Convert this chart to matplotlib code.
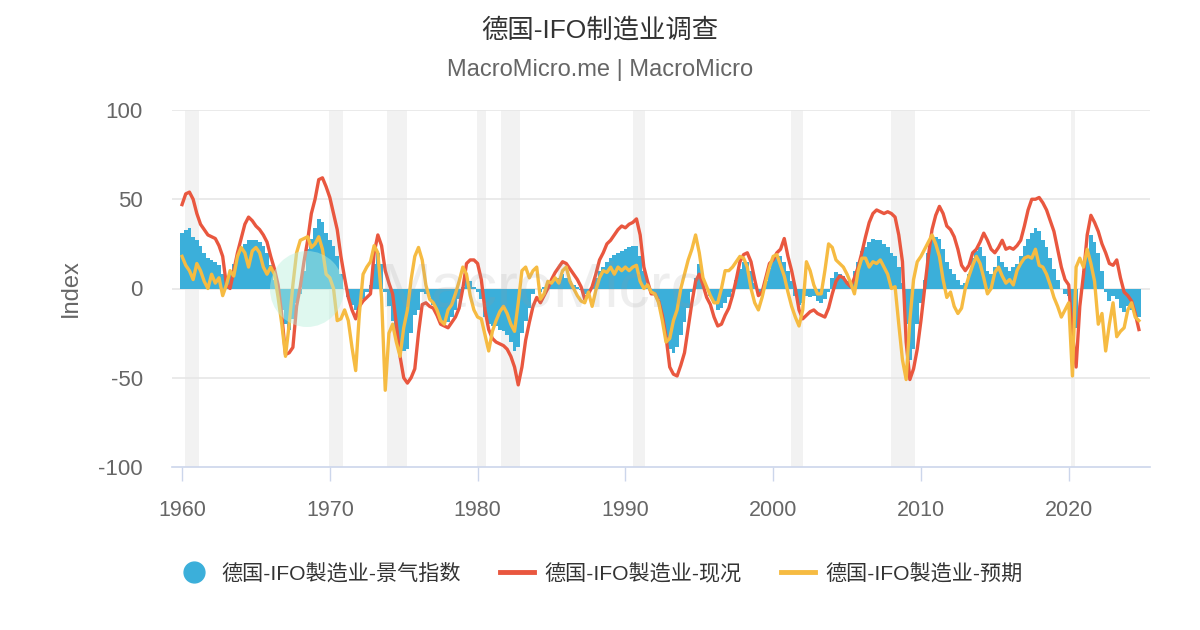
import numpy as np
import matplotlib
matplotlib.use('Agg')
import matplotlib.pyplot as plt
from matplotlib.lines import Line2D
from matplotlib.patches import Ellipse

plt.rcParams['font.family'] = ['Liberation Sans', 'Noto Sans CJK SC']

# 季度数据, 1960Q1 - 2024Q4
start_year = 1960.0
step = 0.25

# 景气指数 (bars)
climate = [
    31, 33, 34, 29, 27, 24, 20, 17, 16, 15, 13, 8, 4, 8, 14, 19,
    22, 25, 27, 27, 27, 26, 24, 20, 13, 5, -3, -12, -20, -23, -17, -8,
    -3, 10, 22, 28, 34, 39, 37, 31, 27, 24, 18, 8, 0, -5, -9, -12,
    -9, -6, -2, 2, 14, 20, 14, -2, -10, -18, -25, -31, -35, -34, -25, -15,
    -12, -2, -3, -5, -9, -14, -18, -20, -19, -16, -12, -6, 1, 7, 4, 1,
    -2, -6, -16, -20, -21, -21, -23, -24, -26, -30, -35, -33, -25, -18, -11, -3,
    0, -2, 1, 3, 4, 5, 6, 8, 6, 4, 2, 1, -1, -3, -2, 1,
    6, 10, 12, 15, 17, 19, 20, 21, 22, 23, 24, 24, 18, 10, 2, -2,
    -3, -6, -15, -27, -34, -36, -33, -26, -19, -11, -2, 6, 14, 6, 0, -4,
    -8, -12, -11, -8, -5, -2, 5, 11, 15, 15, 10, 3, -4, -2, 4, 11,
    17, 18, 18, 15, 10, 4, -4, -9, -8, -4, -5, -4, -7, -8, -6, -2,
    6, 9, 8, 7, 4, 3, 10, 15, 21, 23, 26, 28, 27, 27, 25, 23,
    20, 18, 12, 3, -20, -40, -34, -20, -8, 5, 20, 28, 29, 28, 22, 15,
    11, 8, 5, 2, 3, 8, 17, 21, 23, 18, 10, 8, 12, 18, 15, 12,
    10, 12, 14, 18, 24, 28, 31, 34, 32, 27, 23, 17, 11, 5, 0, -3,
    -4, -30, -22, 0, 10, 22, 30, 26, 20, 10, -2, -7, -4, -6, -11, -13,
    -10, -12, -14, -16,
]

# 现况 (red line)
current = [
    47, 53, 54, 50, 42, 36, 33, 30, 29, 28, 24, 18, 2, 0, 10, 20,
    28, 36, 40, 38, 35, 33, 30, 26, 18, 11, 2, -15, -37, -36, -33, -10,
    1, 15, 27, 42, 50, 61, 62, 57, 51, 42, 33, 18, 6, -5, -12, -17,
    -10, -7, -5, -3, 20, 30, 24, 10, 3, -3, -20, -38, -50, -53, -50, -45,
    -25, -9, -8, -10, -11, -15, -20, -21, -22, -19, -16, -11, 0, 14, 16, 16,
    14, 5, -12, -23, -28, -30, -31, -32, -34, -38, -44, -54, -44, -29, -19, -10,
    -5, -8, -4, 0, 5, 9, 12, 15, 14, 11, 8, 5, 1, -6, -3, 1,
    8, 16, 20, 25, 27, 30, 33, 35, 34, 36, 37, 39, 30, 12, 4, -3,
    -3, -7, -15, -27, -44, -48, -49, -43, -36, -22, -8, 4, 8, 2, -5, -9,
    -16, -21, -20, -15, -11, -4, 5, 15, 19, 20, 15, 5, -4, -2, 6, 14,
    16, 20, 22, 28, 18, 10, 0, -12, -17, -15, -13, -12, -14, -15, -16, -11,
    -3, 4, 7, 6, 3, 1, 6, 12, 20, 29, 37, 42, 44, 43, 42, 43,
    42, 40, 30, 15, -30, -51, -45, -34, -18, 0, 18, 33, 41, 46, 42, 35,
    33, 29, 22, 13, 10, 13, 20, 22, 26, 31, 27, 22, 20, 23, 27, 22,
    23, 22, 24, 27, 35, 44, 50, 50, 51, 48, 44, 38, 32, 22, 12, 5,
    2, -25, -44, -10, 8, 30, 41, 37, 32, 25, 20, 14, 13, 16, 6, -2,
    -4, -7, -14, -23,
]

# 预期 (yellow line)
expect = [
    18, 13, 10, 5, 14, 10, 4, 0, 8, 3, 6, -4, 2, 10, 7, 18,
    23, 20, 12, 21, 23, 20, 12, 8, 12, 8, -5, -20, -38, -20, 2, 20,
    27, 28, 29, 23, 25, 29, 22, 8, 6, 0, -18, -17, -12, -18, -33, -46,
    -14, 8, 12, 15, 24, 20, -5, -57, -25, -20, -30, -38, -22, -12, 5, 18,
    23, 16, 2, -6, -8, -12, -18, -20, -12, -9, -3, 4, 12, 8, -4, -12,
    -16, -17, -26, -35, -24, -18, -13, -10, -14, -20, -24, -8, 10, 12, 6, 10,
    12, -6, -3, 4, 3, 6, 3, 10, 12, 4, 0, -4, -7, -8, -2, -10,
    -1, 6, 10, 9, 12, 8, 12, 10, 12, 10, 12, 13, 4, 0, 2, -2,
    -3, -8, -18, -30, -28, -18, -12, 0, 8, 16, 22, 30, 20, 6, 1, -4,
    -8, -8, 0, 10, 10, 12, 15, 18, 17, 12, 0, -8, -12, -5, 4, 12,
    18, 19, 13, 7, -2, -10, -16, -21, -12, 15, 10, 2, -3, -3, 10, 25,
    23, 16, 14, 12, 8, 3, -3, 10, 17, 17, 12, 15, 14, 16, 12, 8,
    0, 1, -20, -40, -51, -18, 5, 15, 18, 22, 26, 30, 25, 18, 5, -5,
    -2, -10, -14, -11, 0, 7, 13, 18, 14, 6, -3, 0, 9, 12, 7, 3,
    5, 2, 10, 14, 17, 18, 17, 22, 13, 12, 8, 2, -5, -10, -16, -12,
    -8, -49, 12, 17, 12, 22, 14, 4, -20, -14, -35, -20, -8, -27, -24, -22,
    -12, -8, -16, -18,
]

recessions = [(1960.2, 1961.15), (1969.97, 1970.87), (1973.87, 1975.2),
              (1979.94, 1980.6), (1981.6, 1982.9), (1990.5, 1991.3),
              (2001.2, 2002.0), (2008.0, 2009.6), (2020.15, 2020.45)]

x_ticks = [1960, 1970, 1980, 1990, 2000, 2010, 2020]
y_ticks = [-100, -50, 0, 50, 100]

labels = ['德国-IFO製造业-景气指数', '德国-IFO製造业-现况', '德国-IFO製造业-预期']
c_blue = '#3BAFDA'
c_red = '#E9573F'
c_yellow = '#F6BB42'

t = start_year + step * np.arange(len(climate))

fig = plt.figure(figsize=(12, 6.3), dpi=100)
ax = fig.add_axes([172 / 1200, 1 - 467 / 630, 978 / 1200, 357 / 630])

for a, b in recessions:
    ax.axvspan(a, b, color='#f2f2f2', lw=0, zorder=0)

for y in y_ticks[1:]:
    ax.axhline(y, color='#e6e6e6', lw=1.2, zorder=1)

ax.bar(t, climate, width=step * 1.02, color=c_blue, lw=0, zorder=2)
ax.plot(t, current, color=c_red, lw=2.4, zorder=3, solid_joinstyle='round')
ax.plot(t, expect, color=c_yellow, lw=2.4, zorder=4, solid_joinstyle='round')

ax.set_xlim(1959.32, 2025.5)
ax.set_ylim(-100, 100)
ax.set_xticks(x_ticks)
ax.set_yticks(y_ticks)
ax.set_yticklabels([str(v) for v in y_ticks])
for s in ['top', 'right', 'left']:
    ax.spines[s].set_visible(False)
ax.spines['bottom'].set_color('#ccd6eb')
ax.spines['bottom'].set_linewidth(1.2)
ax.tick_params(axis='x', length=10, width=1, color='#ccd6eb',
               labelsize=15.5, labelcolor='#666666', pad=14)
ax.tick_params(axis='y', length=0, labelsize=16, labelcolor='#666666', pad=21)
ax.set_ylabel('Index', fontsize=17, color='#666666', labelpad=12)

# watermark
fig.patches.append(Ellipse((307 / 1200, 1 - 289 / 630), 74 / 1200, 76 / 630,
                           transform=fig.transFigure, facecolor='#b9f0dd',
                           alpha=0.45, edgecolor='none', zorder=5))
fig.text(380 / 1200, 1 - 290 / 630, 'MacroMicro', fontsize=45, color='#999999',
         alpha=0.16, va='center', ha='left', zorder=6)

fig.text(0.5, 1 - 30 / 630, '德国-IFO制造业调查', ha='center', va='center',
         fontsize=19, color='#333333')
fig.text(0.5, 1 - 70 / 630, 'MacroMicro.me | MacroMicro', ha='center', va='center',
         fontsize=17, color='#666666')

handles = [
    Line2D([], [], marker='o', ls='none', markersize=15, color=c_blue),
    Line2D([], [], color=c_red, lw=3.5),
    Line2D([], [], color=c_yellow, lw=3.5),
]
fig.legend(handles, labels, loc='center', bbox_to_anchor=(0.5, 1 - 573 / 630), ncol=3,
           frameon=False, fontsize=15.2, handlelength=1.6, columnspacing=1.85,
           handletextpad=0.5, labelcolor='#333333')

fig.savefig('out.png', dpi=100)
